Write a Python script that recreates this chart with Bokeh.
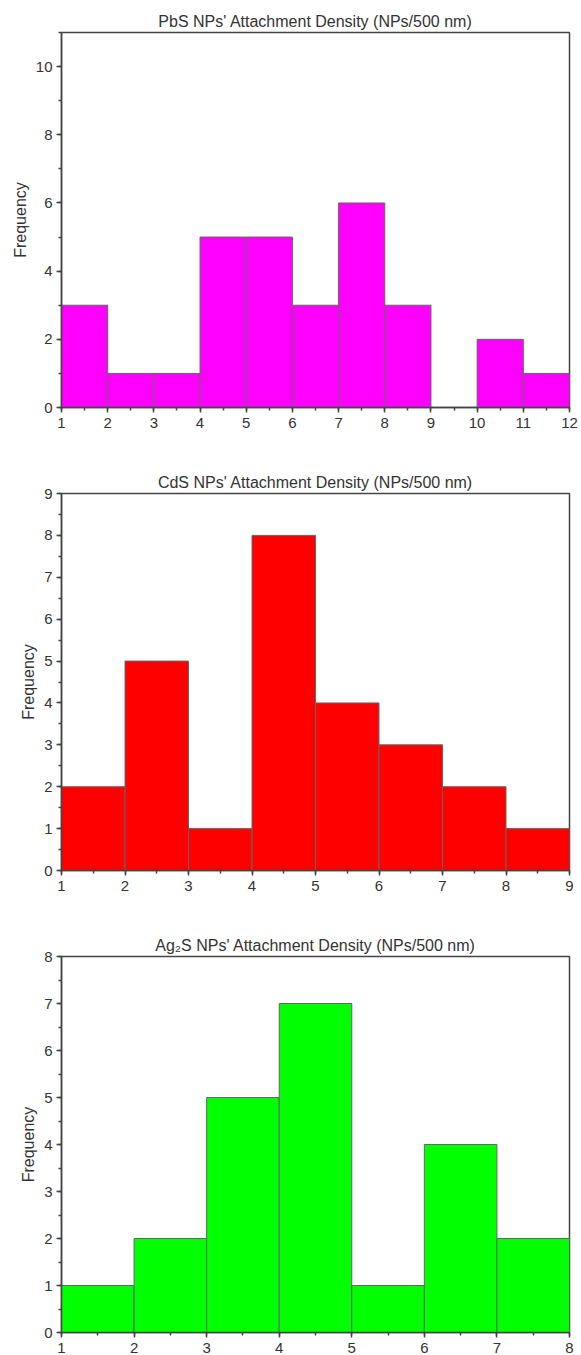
from bokeh.plotting import figure
from bokeh.layouts import column
from bokeh.models import SingleIntervalTicker, Range1d
from bokeh.embed import file_html
from bokeh.resources import INLINE

# ---- data ----
pbs_edges = [1, 2, 3, 4, 5, 6, 7, 8, 9, 10, 11, 12]
pbs_counts = [3, 1, 1, 5, 5, 3, 6, 3, 0, 2, 1]

cds_edges = [1, 2, 3, 4, 5, 6, 7, 8, 9]
cds_counts = [2, 5, 1, 8, 4, 3, 2, 1]

ag2s_edges = [1, 2, 3, 4, 5, 6, 7, 8]
ag2s_counts = [1, 2, 5, 7, 1, 4, 2]

titles = [
    "PbS NPs' Attachment Density (NPs/500 nm)",
    "CdS NPs' Attachment Density (NPs/500 nm)",
    "Ag\u2082S NPs' Attachment Density (NPs/500 nm)",
]
colors = ["#FF00FF", "#FF0000", "#00FF00"]
y_max = [11, 9, 8]
y_step = [2, 1, 1]

FONT = "Liberation Sans"
TXT = "#333333"
AX = "#444444"


def make(edges, counts, title, color, ymax, ystep, height, top, bottom):
    p = figure(width=581, height=height, output_backend="svg", toolbar_location=None,
               x_range=Range1d(edges[0], edges[-1]), y_range=Range1d(0, ymax),
               min_border_left=61, min_border_right=12,
               min_border_top=top, min_border_bottom=bottom)
    p.title.text = title
    p.title.align = "center"
    p.title.text_font = FONT
    p.title.text_font_size = "16px"
    p.title.text_font_style = "normal"
    p.title.text_color = TXT
    p.title.standoff = 5
    p.quad(left=edges[:-1], right=edges[1:], bottom=0, top=counts,
           fill_color=color, line_color="#666666", line_width=1)
    p.xgrid.visible = False
    p.ygrid.visible = False
    p.outline_line_color = AX
    p.outline_line_width = 1.5
    p.xaxis.ticker = SingleIntervalTicker(interval=1, num_minor_ticks=2)
    p.yaxis.ticker = SingleIntervalTicker(interval=ystep, num_minor_ticks=2)
    for ax in (p.xaxis, p.yaxis):
        ax.axis_line_color = AX
        ax.axis_line_width = 1.5
        ax.major_tick_line_color = AX
        ax.minor_tick_line_color = AX
        ax.major_tick_line_width = 1.5
        ax.minor_tick_line_width = 1.5
        ax.major_tick_in = 0
        ax.major_tick_out = 5
        ax.minor_tick_in = 0
        ax.minor_tick_out = 3
        ax.major_label_text_font = FONT
        ax.major_label_text_font_size = "15px"
        ax.major_label_text_color = TXT
    p.xaxis.major_label_standoff = 5
    p.yaxis.major_label_standoff = 4
    p.yaxis.axis_label = "Frequency"
    p.yaxis.axis_label_text_font = FONT
    p.yaxis.axis_label_text_font_size = "16px"
    p.yaxis.axis_label_text_font_style = "normal"
    p.yaxis.axis_label_text_color = TXT
    p.yaxis.axis_label_standoff = 4
    return p


p1 = make(pbs_edges, pbs_counts, titles[0], colors[0], y_max[0], y_step[0], 440, 32, 33)
p2 = make(cds_edges, cds_counts, titles[1], colors[1], y_max[1], y_step[1], 462, 53, 32)
p3 = make(ag2s_edges, ag2s_counts, titles[2], colors[2], y_max[2], y_step[2], 453, 54, 23)

layout = column(p1, p2, p3, spacing=0)
open("out.html", "w").write(file_html(layout, INLINE))
